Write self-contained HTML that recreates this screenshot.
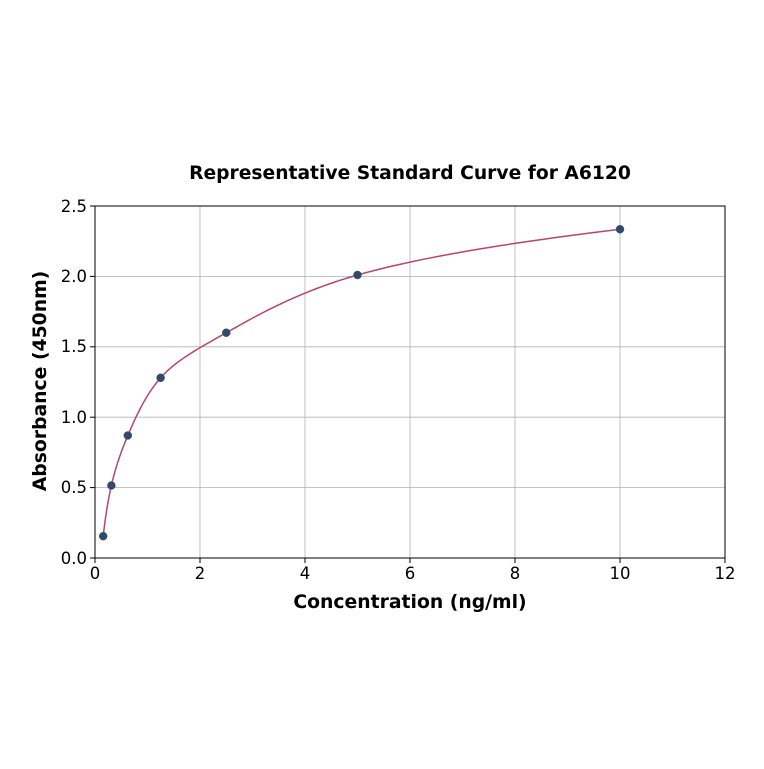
<!DOCTYPE html>
<html><head><style>
body{margin:0;background:#fff;}
svg text{font-family:"DejaVu Sans","Liberation Sans",sans-serif;fill:#000;}
</style></head><body>
<svg id="s" width="764" height="764" xmlns="http://www.w3.org/2000/svg">
<rect width="764" height="764" fill="#fff"/>
<g stroke="#b0b0b0" stroke-width="0.8">
<line x1="200" y1="206" x2="200" y2="558"/><line x1="305" y1="206" x2="305" y2="558"/>
<line x1="410" y1="206" x2="410" y2="558"/><line x1="515" y1="206" x2="515" y2="558"/>
<line x1="620" y1="206" x2="620" y2="558"/>
<line x1="95" y1="276.4" x2="725" y2="276.4"/><line x1="95" y1="346.8" x2="725" y2="346.8"/>
<line x1="95" y1="417.2" x2="725" y2="417.2"/><line x1="95" y1="487.6" x2="725" y2="487.6"/>
</g>
<path id="c" fill="none" stroke="#b5476a" stroke-width="1.5"/>
<g id="pts" fill="#2e4a6e" stroke="#555" stroke-width="0.5"></g>
<rect x="95" y="206" width="630" height="352" fill="none" stroke="#000" stroke-width="1"/>
<g stroke="#000" stroke-width="1">
<line x1="95" y1="558" x2="95" y2="563"/><line x1="200" y1="558" x2="200" y2="563"/><line x1="305" y1="558" x2="305" y2="563"/><line x1="410" y1="558" x2="410" y2="563"/><line x1="515" y1="558" x2="515" y2="563"/><line x1="620" y1="558" x2="620" y2="563"/><line x1="725" y1="558" x2="725" y2="563"/>
<line x1="90" y1="558" x2="95" y2="558"/><line x1="90" y1="487.6" x2="95" y2="487.6"/><line x1="90" y1="417.2" x2="95" y2="417.2"/><line x1="90" y1="346.8" x2="95" y2="346.8"/><line x1="90" y1="276.4" x2="95" y2="276.4"/><line x1="90" y1="206" x2="95" y2="206"/>
</g>
<g font-size="16.5" text-anchor="middle">
<text x="95" y="579">0</text><text x="200" y="579">2</text><text x="305" y="579">4</text><text x="410" y="579">6</text><text x="515" y="579">8</text><text x="620" y="579">10</text><text x="725" y="579">12</text>
</g>
<g font-size="16.5" text-anchor="end">
<text x="87" y="564">0.0</text><text x="87" y="493">0.5</text><text x="87" y="423">1.0</text><text x="87" y="352">1.5</text><text x="87" y="282">2.0</text><text x="87" y="212">2.5</text>
</g>
<text x="410" y="179" font-size="18.7" font-weight="bold" text-anchor="middle">Representative Standard Curve for A6120</text>
<text x="410" y="608" font-size="18.8" font-weight="bold" text-anchor="middle">Concentration (ng/ml)</text>
<text transform="translate(46,381) rotate(-90)" font-size="18.8" font-weight="bold" text-anchor="middle">Absorbance (450nm)</text>
</svg>
<script>
var P=[[0.156,0.155],[0.312,0.515],[0.625,0.87],[1.25,1.28],[2.5,1.60],[5,2.01],[10,2.335]];
function X(x){return 95+x*52.5}function Y(y){return 558-y*140.8}
var g=document.getElementById('pts'),h='';
P.forEach(function(p){h+='<circle cx="'+X(p[0])+'" cy="'+Y(p[1])+'" r="4"/>';});
g.innerHTML=h;
var L=P.map(function(p){return [Math.log(p[0]),p[1]]});
var d='';
for(var i=0;i<L.length-1;i++){
 var p0=L[Math.max(i-1,0)],p1=L[i],p2=L[i+1],p3=L[Math.min(i+2,L.length-1)];
 for(var k=0;k<=20;k++){var t=k/20,t2=t*t,t3=t2*t;
  var lx=0.5*((2*p1[0])+(-p0[0]+p2[0])*t+(2*p0[0]-5*p1[0]+4*p2[0]-p3[0])*t2+(-p0[0]+3*p1[0]-3*p2[0]+p3[0])*t3);
  var ly=0.5*((2*p1[1])+(-p0[1]+p2[1])*t+(2*p0[1]-5*p1[1]+4*p2[1]-p3[1])*t2+(-p0[1]+3*p1[1]-3*p2[1]+p3[1])*t3);
  d+=(d?'L':'M')+X(Math.exp(lx)).toFixed(2)+','+Y(ly).toFixed(2);}
}
document.getElementById('c').setAttribute('d',d);
</script>
</body></html>
